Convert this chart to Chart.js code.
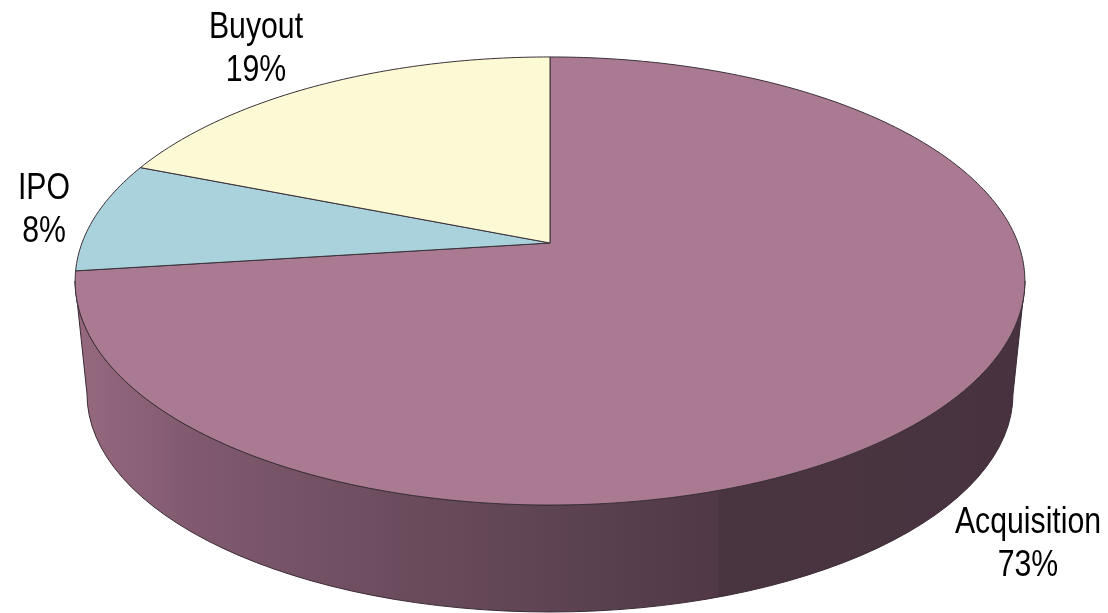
<!DOCTYPE html>
<html>
<head>
<meta charset="utf-8">
<style>
html,body{margin:0;padding:0;background:#fff;}
#wrap{position:absolute;left:0;top:0;width:1108px;height:613px;}
</style>
<script src="https://cdn.jsdelivr.net/npm/chart.js@4/dist/chart.umd.js"></script>
</head>
<body>
<div id="wrap"><canvas id="c" width="1108" height="613"></canvas></div>
<script>
const categories = ['Acquisition', 'IPO', 'Buyout'];
const shares = [73, 8, 19];
const sliceColors = ['#aa7a93', '#a9d2dc', '#fcfad4'];

// Perspective of the pie's top face and of the bottom rim
const apex = {x: 550, y: 243};
const persp = {a: 468, b: 217.6, k: 0.1696};
const topRim = {cx: 550, cy: 281, rx: 475, ry: 224};
const lowRim = {cx: 550, cy: 394, rx: 463, ry: 218};
const labelAnchors = [
  {x: 1028, y: 533}, {x: 44, y: 199}, {x: 256, y: 38}
];

function project(angle) {
  const u = Math.cos(angle), v = Math.sin(angle), w = 1 - persp.k * v;
  return {x: apex.x + persp.a * u / w, y: apex.y + persp.b * v / w};
}

function drawPerspectiveArc(ctx) {
  const o = this.options;
  ctx.save();
  ctx.beginPath();
  ctx.moveTo(apex.x, apex.y);
  const n = Math.max(2, Math.ceil((this.endAngle - this.startAngle) * 60));
  for (let i = 0; i <= n; i++) {
    const p = project(this.startAngle + (this.endAngle - this.startAngle) * i / n);
    ctx.lineTo(p.x, p.y);
  }
  ctx.closePath();
  ctx.fillStyle = o.backgroundColor;
  ctx.fill();
  ctx.lineJoin = 'round';
  ctx.lineWidth = o.borderWidth;
  ctx.strokeStyle = o.borderColor;
  ctx.stroke();
  ctx.restore();
}

const pie3d = {
  id: 'pie3d',
  beforeDatasetsDraw(chart) {
    const ctx = chart.ctx;
    chart.getDatasetMeta(0).data.forEach(el => { el.draw = drawPerspectiveArc; });
    // side wall
    const g = ctx.createLinearGradient(75, 0, 1025, 0);
    [[0, '#96697f'], [0.13, '#80596f'], [0.34, '#6b4c5e'], [0.5, '#5e4453'],
     [0.677, '#503846'], [0.678, '#493540'], [1, '#483240']].forEach(s => g.addColorStop(s[0], s[1]));
    ctx.save();
    ctx.beginPath();
    ctx.moveTo(topRim.cx - topRim.rx, topRim.cy);
    ctx.ellipse(topRim.cx, topRim.cy, topRim.rx, topRim.ry, 0, Math.PI, 0, true);
    ctx.lineTo(lowRim.cx + lowRim.rx, lowRim.cy);
    ctx.ellipse(lowRim.cx, lowRim.cy, lowRim.rx, lowRim.ry, 0, 0, Math.PI, false);
    ctx.closePath();
    ctx.fillStyle = g;
    ctx.fill();
    ctx.lineWidth = 1;
    ctx.strokeStyle = '#3a2a34';
    ctx.stroke();
    ctx.restore();
  },
  afterDatasetsDraw(chart) {
    const ctx = chart.ctx;
    ctx.save();
    ctx.fillStyle = '#000';
    ctx.font = '36px "Liberation Sans", Arial, sans-serif';
    ctx.textAlign = 'center';
    ctx.textBaseline = 'alphabetic';
    categories.forEach((name, i) => {
      const a = labelAnchors[i];
      ctx.save();
      ctx.translate(a.x, a.y);
      ctx.scale(0.84, 1);
      ctx.fillText(name, 0, 0);
      ctx.fillText(shares[i] + '%', 0, 43);
      ctx.restore();
    });
    ctx.restore();
  }
};

new Chart(document.getElementById('c'), {
  type: 'pie',
  data: {
    labels: categories,
    datasets: [{
      data: shares,
      backgroundColor: sliceColors,
      borderColor: '#3a3038',
      borderWidth: 1
    }]
  },
  options: {
    responsive: false,
    animation: false,
    plugins: {legend: {display: false}, tooltip: {enabled: false}}
  },
  plugins: [pie3d]
});
</script>
</body>
</html>
